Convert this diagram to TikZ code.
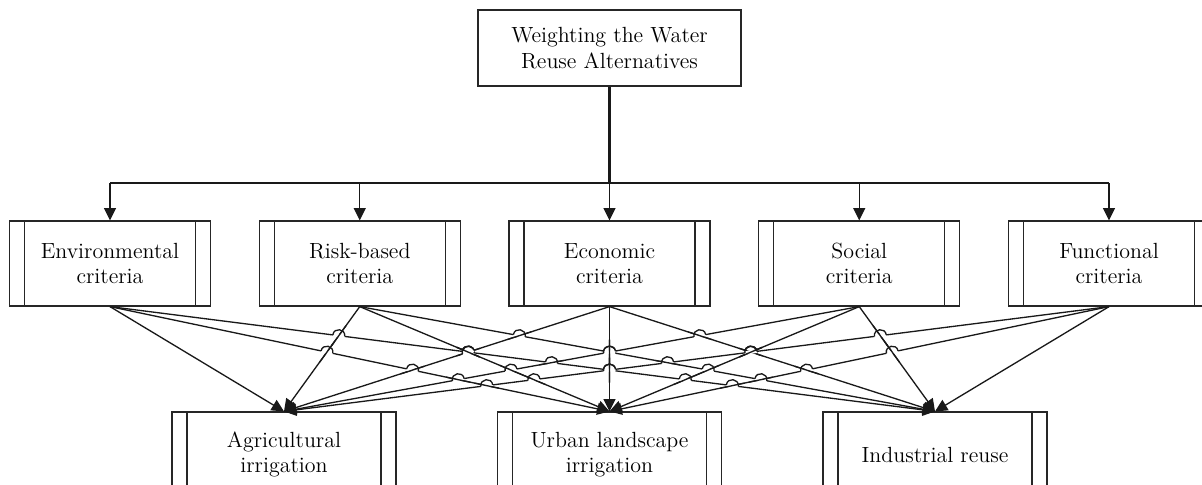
\documentclass[tikz,border=0pt]{standalone}
\usetikzlibrary{arrows.meta,calc}
\tikzset{
  link/.style={line width=0.75pt,black!90},
  tip/.style={-{Triangle[length=7pt,width=6.8pt]}},
  procbox/.style={draw=black!85,line width=0.7pt,align=center,minimum width=#1,minimum height=1.7cm,
    font=\fontsize{12.5}{14.5}\selectfont,
    path picture={\draw[line width=0.7pt,black!85]
      ([xshift=0.3cm]path picture bounding box.north west) -- ([xshift=0.3cm]path picture bounding box.south west)
      ([xshift=-0.3cm]path picture bounding box.north east) -- ([xshift=-0.3cm]path picture bounding box.south east);}},
}
\newcommand{\hopr}{0.12cm}
% hop of line #1--#2 (left end first) over line #3--#4
\newcommand{\hopline}[4]{%
  \coordinate (hx) at (intersection of #1--#2 and #3--#4);
  \draw[white,line width=1.8pt] ($(hx)!\hopr!(#1)$) -- ($(hx)!\hopr!(#2)$);
  \draw[link] ($(hx)!0.25cm!(#3)$) -- ($(hx)!0.25cm!(#4)$);
  \draw[link] ($(hx)!\hopr!(#1)$) to[bend left=90,looseness=1.7] ($(hx)!\hopr!(#2)$);}
\def\critx{110,359.75,609.5,859.25,1109}
\def\altx{284,609.5,935}

\begin{document}
\begin{tikzpicture}[x=0.02cm,y=-0.02cm]
  \useasboundingbox (0,0) rectangle (1202,484);
  \clip (0,0) rectangle (1202,484);

  \node[draw=black!85,line width=0.7pt,align=center,minimum width=5.26cm,minimum height=1.52cm,
    font=\fontsize{12.5}{14.5}\selectfont] (goal) at (609.5,48) {Weighting the Water\\Reuse Alternatives};

  \node[procbox=4.02cm] (crit1) at (110,263.5) {Environmental\\criteria};
  \node[procbox=4.02cm] (crit2) at (359.75,263.5) {Risk-based\\criteria};
  \node[procbox=4.02cm] (crit3) at (609.5,263.5) {Economic\\criteria};
  \node[procbox=4.02cm] (crit4) at (859.25,263.5) {Social\\criteria};
  \node[procbox=4.02cm] (crit5) at (1109,263.5) {Functional\\criteria};

  \node[procbox=4.48cm] (alt1) at (284,454.5) {Agricultural\\irrigation};
  \node[procbox=4.48cm] (alt2) at (609.5,454.5) {Urban landscape\\irrigation};
  \node[procbox=4.48cm] (alt3) at (935,454.5) {Industrial reuse};

  % goal to criteria
  \coordinate (bus) at (609.5,183);
  \draw[link,line width=1.2pt] (goal) -- (bus);
  \draw[link] (crit1.north |- bus) -- (crit5.north |- bus);
  \foreach \i in {1,...,5}
    \draw[link,tip] (crit\i.north |- bus) -- (crit\i.north);

  % criteria to alternatives
  \foreach \i in {1,...,5}
    \foreach \a in {1,2,3}
      \draw[link,tip] (crit\i.south) -- (alt\a.north);

  % line hops at the crossings
  \foreach \i in {1,...,4}{
    \pgfmathtruncatemacro\inext{\i+1}
    \foreach \j in {\inext,...,5}{
      \foreach \a/\b in {2/1,3/1,3/2}{
        \pgfmathsetmacro\sA{{\altx}[\a-1]-{\critx}[\i-1]}
        \pgfmathsetmacro\sB{{\altx}[\b-1]-{\critx}[\j-1]}
        \pgfmathsetmacro\dA{abs(\sA)}
        \pgfmathsetmacro\dB{abs(\sB)}
        \ifdim\dA pt=\dB pt\else
          \ifdim\dA pt>\dB pt
            \ifdim\sA pt>0pt
              \hopline{crit\i.south}{alt\a.north}{crit\j.south}{alt\b.north}
            \else
              \hopline{alt\a.north}{crit\i.south}{crit\j.south}{alt\b.north}
            \fi
          \else
            \ifdim\sB pt>0pt
              \hopline{crit\j.south}{alt\b.north}{crit\i.south}{alt\a.north}
            \else
              \hopline{alt\b.north}{crit\j.south}{crit\i.south}{alt\a.north}
            \fi
          \fi
        \fi
      }
    }
  }
\end{tikzpicture}
\end{document}
